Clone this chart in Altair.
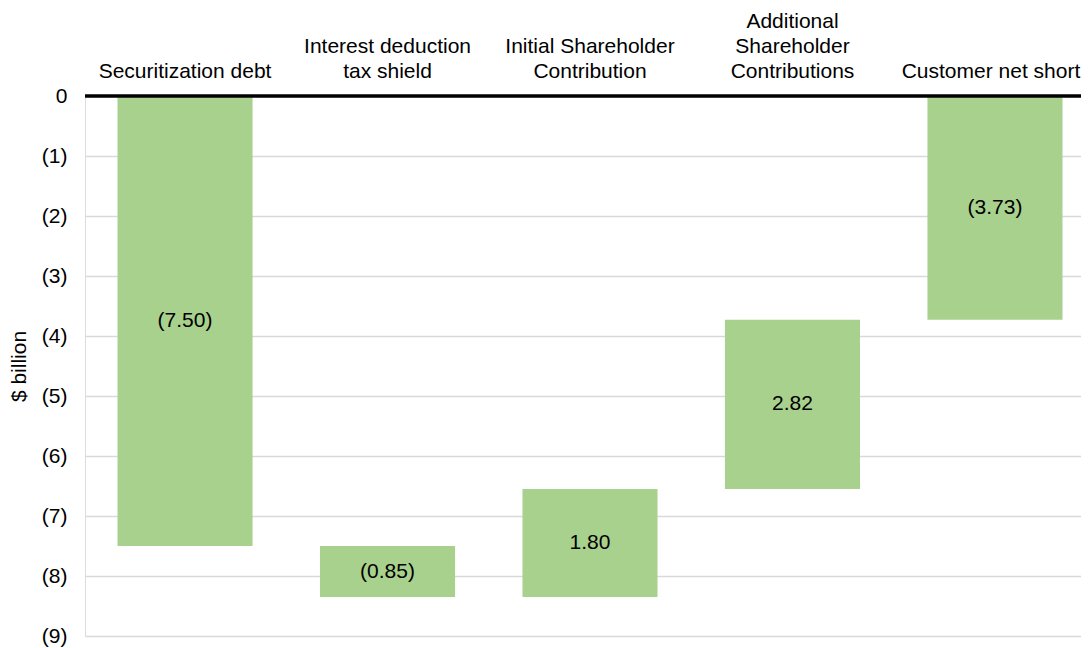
import altair as alt
import pandas as pd

categories = [
    "Securitization debt",
    "Interest deduction tax shield",
    "Initial Shareholder Contribution",
    "Additional Shareholder Contributions",
    "Customer net short",
]
label_lines = [
    ["Securitization debt"],
    ["Interest deduction", "tax shield"],
    ["Initial Shareholder", "Contribution"],
    ["Additional", "Shareholder", "Contributions"],
    ["Customer net short"],
]
changes = [-7.50, -0.85, 1.80, 2.82, -3.73]
is_total = [False, False, False, False, True]

y_ticks = [0, -1, -2, -3, -4, -5, -6, -7, -8, -9]

rows = []
running = 0.0
for cat, chg, tot in zip(categories, changes, is_total):
    if tot:
        start, end = 0.0, chg
    else:
        start, end = running, running + chg
        running = end
    label = f"({abs(chg):.2f})" if chg < 0 else f"{chg:.2f}"
    rows.append({"cat": cat, "start": start, "end": end,
                 "mid": (start + end) / 2, "label": label})
df = pd.DataFrame(rows)

line_rows = []
for idx, (cat, lines) in enumerate(zip(categories, label_lines)):
    n = len(lines)
    for i, t in enumerate(lines):
        line_rows.append({"cat": cat, "line": t, "k": n - 1 - i,
                          "last": idx == len(categories) - 1})
df_lines = pd.DataFrame(line_rows)

FONT = "Liberation Sans"
FS = 21
LH = 25

xscale = alt.Scale(paddingInner=0.333, paddingOuter=0.1605, range=[0, 1010])
x = alt.X("cat:N", sort=categories, title=None, scale=xscale, axis=None)
x_plain = alt.X("cat:N", sort=categories, axis=None)
yscale = alt.Scale(domain=[-9, 0], nice=False, zero=False)
y = alt.Y("start:Q", scale=yscale, title="$ billion",
          axis=alt.Axis(values=y_ticks, domain=False, ticks=False,
                        grid=True, gridColor="#d9d9d9", gridWidth=1.5,
                        labelFontSize=FS, labelFont=FONT, labelColor="#000000",
                        labelPadding=18,
                        labelExpr="datum.value == 0 ? '0' : '(' + abs(datum.value) + ')'",
                        titleFontSize=FS, titleFont=FONT, titleFontWeight="normal",
                        titleColor="#000000", titlePadding=12))

bars = alt.Chart(df).mark_bar(color="#a9d18e").encode(x=x, y=y, y2="end:Q")

text = alt.Chart(df).mark_text(fontSize=FS, font=FONT, color="#000000").encode(
    x=x_plain, y=alt.Y("mid:Q", scale=yscale), text="label:N")

zero = alt.Chart(pd.DataFrame({"z": [0]})).mark_rule(color="#000000", strokeWidth=3.5).encode(
    y=alt.Y("z:Q", scale=yscale), x=alt.value(0), x2=alt.value(1010))

cat_layers = []
for k in range(3):
    cat_layers.append(
        alt.Chart(df_lines).transform_filter((alt.datum.k == k) & (alt.datum.last == False))
        .mark_text(fontSize=FS, font=FONT, color="#000000", baseline="bottom", align="center")
        .encode(x=x_plain, y=alt.value(-14 - k * LH), text="line:N")
    )
cat_layers.append(
    alt.Chart(df_lines).transform_filter(alt.datum.last == True)
    .mark_text(fontSize=FS, font=FONT, color="#000000", baseline="bottom", align="center", dx=-4)
    .encode(x=x_plain, y=alt.value(-14), text="line:N")
)

chart = alt.layer(bars, text, zero, *cat_layers).properties(
    width=996, height=540,
    autosize=alt.AutoSizeParams(type="none"),
    padding={"left": 77, "top": 88, "right": 0, "bottom": 12},
).configure_view(strokeWidth=0, stroke="transparent").configure_axis(
    domain=False
).configure_axisX(grid=False).configure(font=FONT)

chart.save("out.html", embed_options={"renderer": "svg", "actions": False})
